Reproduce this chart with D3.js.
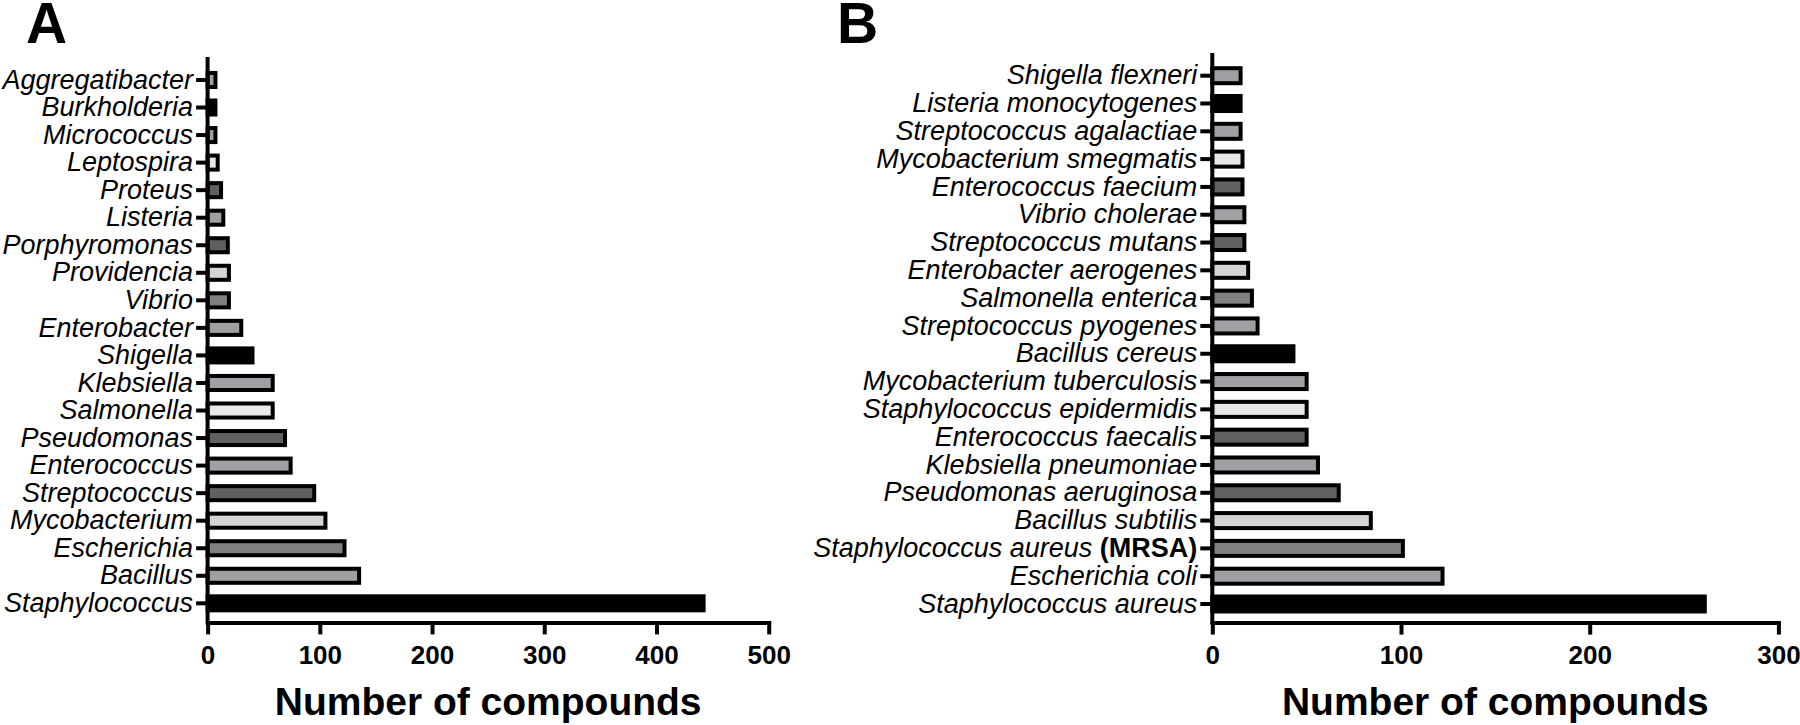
<!DOCTYPE html>
<html><head><meta charset="utf-8">
<script src="https://cdn.jsdelivr.net/npm/d3@7"></script>
<style>
body{margin:0;background:#fff;}
svg{display:block;font-family:'Liberation Sans',Arial,Helvetica,sans-serif;}
</style>
</head><body>
<svg id="chart" width="1800" height="725"></svg>
<script>
// ---- Data (top to bottom as drawn) ----
const genusNames = ["Aggregatibacter","Burkholderia","Micrococcus","Leptospira","Proteus","Listeria","Porphyromonas","Providencia","Vibrio","Enterobacter","Shigella","Klebsiella","Salmonella","Pseudomonas","Enterococcus","Streptococcus","Mycobacterium","Escherichia","Bacillus","Staphylococcus"];
const genusCounts = [7,7,7,9,12,14,18,19,19,30,40,58,58,69,74,95,105,122,135,442];

const speciesNames = ["Shigella flexneri","Listeria monocytogenes","Streptococcus agalactiae","Mycobacterium smegmatis","Enterococcus faecium","Vibrio cholerae","Streptococcus mutans","Enterobacter aerogenes","Salmonella enterica","Streptococcus pyogenes","Bacillus cereus","Mycobacterium tuberculosis","Staphylococcus epidermidis","Enterococcus faecalis","Klebsiella pneumoniae","Pseudomonas aeruginosa","Bacillus subtilis","Staphylococcus aureus (MRSA)","Escherichia coli","Staphylococcus aureus"];
const speciesCounts = [15,15,15,16,16,17,17,19,21,24,43,50,50,50,56,67,84,101,122,261];

const ticksA = [0,100,200,300,400,500];
const ticksB = [0,100,200,300];
const axisTitle = "Number of compounds";

// grey cycle used from the bottom bar upward
const greyCycle = ["#000000","#a0a0a4","#808080","#d4d4d4","#606060","#a0a0a4","#606060","#e8e8e8","#a0a0a4"];

const svg = d3.select("#chart");
svg.append("rect").attr("width",1800).attr("height",725).attr("fill","#fff");

function panel(cfg){
  const g = svg.append("g");
  const n = cfg.names.length;
  const x = d3.scaleLinear().domain([0, d3.max(cfg.ticks)]).range(cfg.xRange);
  const y = d3.scaleBand().domain(cfg.names).range(cfg.bandRange)
      .paddingInner(cfg.pad).paddingOuter(cfg.pad/2);

  // bars
  g.selectAll("rect.bar").data(cfg.names).join("rect")
    .attr("class","bar")
    .attr("x", x(0))
    .attr("y", d => y(d))
    .attr("height", y.bandwidth())
    .attr("width", (d,i) => x(cfg.counts[i]) - x(0))
    .attr("fill", (d,i) => greyCycle[(n-1-i) % greyCycle.length])
    .attr("stroke","#000")
    .attr("stroke-width",4);

  // y axis
  const yAx = g.append("g").attr("transform",`translate(${x(0)},0)`)
    .call(d3.axisLeft(y).tickSize(cfg.yTick).tickSizeOuter(0).tickPadding(3));
  yAx.select(".domain").remove();
  yAx.selectAll(".tick line").attr("stroke","#000").attr("stroke-width",4);
  yAx.selectAll(".tick text")
    .attr("fill","#000").attr("font-size",27).attr("font-style","italic")
    .attr("font-family","'Liberation Sans',Arial,sans-serif");
  yAx.selectAll(".tick text").each(function(d){
    const m = d.match(/^(.*?)\s*(\(.*\))$/);
    if(m){
      const t = d3.select(this); t.text(null);
      t.append("tspan").text(m[1] + " ");
      t.append("tspan").attr("font-style","normal").attr("font-weight","bold").text(m[2]);
    }
  });
  g.append("line")
    .attr("x1",x(0)).attr("x2",x(0))
    .attr("y1",cfg.axisTop).attr("y2",cfg.axisY)
    .attr("stroke","#000").attr("stroke-width",4).attr("stroke-linecap","square");

  // x axis
  const xAx = g.append("g").attr("transform",`translate(0,${cfg.axisY})`)
    .call(d3.axisBottom(x).tickValues(cfg.ticks).tickSize(12).tickSizeOuter(0).tickPadding(11));
  xAx.select(".domain").attr("stroke","#000").attr("stroke-width",4).attr("stroke-linecap","square");
  xAx.selectAll(".tick line").attr("stroke","#000").attr("stroke-width",4);
  xAx.selectAll(".tick text").attr("fill","#000").attr("font-size",26).attr("font-weight","bold")
    .attr("font-family","'Liberation Sans',Arial,sans-serif");

  // axis title
  g.append("text")
    .attr("x",(cfg.xRange[0]+cfg.xRange[1])/2).attr("y",715)
    .attr("text-anchor","middle").attr("font-size",39).attr("font-weight","bold")
    .text(axisTitle);

  // panel letter
  g.append("text").attr("x",cfg.letterX).attr("y",43)
    .attr("font-size",57).attr("font-weight","bold").text(cfg.letter);
}

panel({names:genusNames, counts:genusCounts, ticks:ticksA,
  xRange:[207.6,768.7], bandRange:[66.2,617.1], pad:0.49,
  axisTop:59, axisY:622.4, yTick:11.5, letter:"A", letterX:26});
panel({names:speciesNames, counts:speciesCounts, ticks:ticksB,
  xRange:[1212.3,1778.4], bandRange:[61.8,617.9], pad:0.46,
  axisTop:55, axisY:622.6, yTick:12, letter:"B", letterX:837});
</script>
</body></html>
